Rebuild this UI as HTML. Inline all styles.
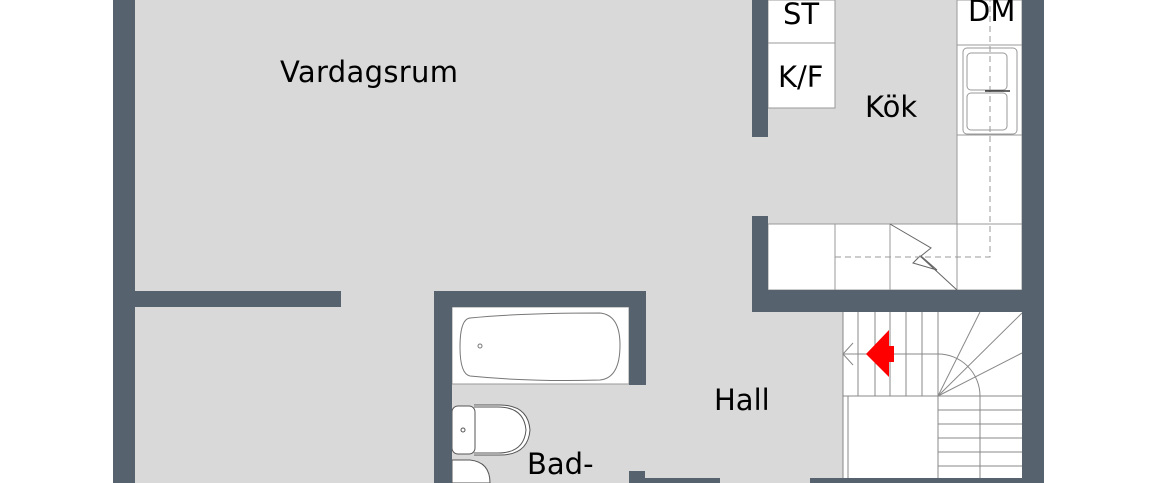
<!DOCTYPE html>
<html><head><meta charset="utf-8"><style>
html,body{margin:0;padding:0;background:#fff;width:1160px;height:483px;overflow:hidden}
text{font-family:"DejaVu Sans","Liberation Sans",sans-serif;font-size:29px;fill:#000}
</style></head><body>
<svg width="1160" height="483" viewBox="0 0 1160 483" xmlns="http://www.w3.org/2000/svg">
<rect x="113" y="0" width="931" height="483" fill="#d9d9d9"/>
<g fill="#fff" stroke="#999" stroke-width="1">
<rect x="768" y="0" width="67" height="43"/>
<rect x="768" y="43" width="67" height="65"/>
<rect x="957" y="0" width="65" height="290"/>
<rect x="768" y="224" width="254" height="66"/>
</g>
<g stroke="#999" fill="none" stroke-width="1">
<line x1="957" y1="45" x2="1022" y2="45"/>
<line x1="957" y1="135" x2="1022" y2="135"/>
<line x1="835" y1="224" x2="835" y2="290"/>
<line x1="890" y1="224" x2="890" y2="290"/>
<line x1="957" y1="224" x2="957" y2="290"/>
<rect x="963" y="48" width="54" height="86" rx="4"/>
<rect x="967" y="53" width="40" height="37" rx="4"/>
<rect x="967" y="93" width="40" height="37" rx="4"/>
<path d="M890 224 L931 248 L921 256 L937 270 L913 263 L920 256 L957 290" stroke="#666"/>
<path d="M835 257 L990 257 L990 0" stroke="#999" stroke-dasharray="6,4"/>
</g>
<line x1="985" y1="91" x2="1010" y2="91" stroke="#333" stroke-width="1.5"/>
<rect x="452" y="307" width="177" height="77" fill="#fff" stroke="#999"/>
<path d="M470 318 Q520 313 600 313 Q620 315 620 345 Q620 378 600 380 Q530 382 470 376 Q460 374 460 347 Q460 319 470 318Z" fill="#fff" stroke="#777"/>
<circle cx="480" cy="346" r="2" fill="none" stroke="#777"/>
<path d="M474 405 L500 405 Q528 405 530 430 Q528 455 500 455 L474 455" fill="#fff" stroke="#555"/>
<path d="M474 407 L498 407 Q524 407 526 430 Q524 453 498 453 L474 453" fill="none" stroke="#555"/>
<rect x="452" y="406" width="23" height="48" rx="6" fill="#fff" stroke="#555"/>
<circle cx="463" cy="430" r="2" fill="none" stroke="#555"/>
<path d="M452 460 L470 460 Q490 462 490 483 L452 483Z" fill="#fff" stroke="#555"/>
<rect x="843" y="312" width="179" height="171" fill="#fff"/>
<g stroke="#888" stroke-width="1" fill="none">
<line x1="843" y1="312" x2="843" y2="483"/>
<line x1="848" y1="396" x2="848" y2="483"/>
<line x1="858" y1="312" x2="858" y2="396"/>
<line x1="875" y1="312" x2="875" y2="396"/>
<line x1="890" y1="312" x2="890" y2="396"/>
<line x1="906" y1="312" x2="906" y2="396"/>
<line x1="922" y1="312" x2="922" y2="396"/>
<line x1="938" y1="312" x2="938" y2="483"/>
<line x1="843" y1="396" x2="1022" y2="396"/>
<line x1="843" y1="354" x2="938" y2="354"/>
<path d="M938 354 A42 42 0 0 1 980 396 L980 483"/>
<line x1="938" y1="396" x2="980" y2="312"/>
<line x1="938" y1="396" x2="1022" y2="313"/>
<line x1="938" y1="396" x2="1022" y2="353"/>
<line x1="938" y1="410" x2="1022" y2="410"/>
<line x1="938" y1="424" x2="1022" y2="424"/>
<line x1="938" y1="438" x2="1022" y2="438"/>
<line x1="938" y1="452" x2="1022" y2="452"/>
<line x1="938" y1="466" x2="1022" y2="466"/>
<path d="M853 343 L843 354 L853 365"/>
</g>
<path d="M866 354 L889 330 L889 346 L894 346 L894 362 L889 362 L889 377Z" fill="#f00"/>
<g fill="#56636f">
<rect x="113" y="0" width="22" height="483"/>
<rect x="1022" y="0" width="22" height="483"/>
<rect x="135" y="291" width="206" height="16"/>
<rect x="752" y="0" width="16" height="137"/>
<rect x="752" y="216" width="16" height="94"/>
<rect x="752" y="290" width="292" height="22"/>
<rect x="434" y="291" width="18" height="192"/>
<rect x="434" y="291" width="212" height="16"/>
<rect x="629" y="291" width="17" height="94"/>
<rect x="629" y="471" width="16" height="12"/>
<rect x="645" y="478" width="75" height="5"/>
<rect x="810" y="478" width="234" height="5"/>
</g>
<text x="280" y="82" textLength="178">Vardagsrum</text>
<text x="783" y="24">ST</text>
<text x="778" y="87">K/F</text>
<text x="968" y="21">DM</text>
<text x="865" y="117">Kök</text>
<text x="714" y="410">Hall</text>
<text x="527" y="474">Bad-</text>
</svg>
</body></html>
